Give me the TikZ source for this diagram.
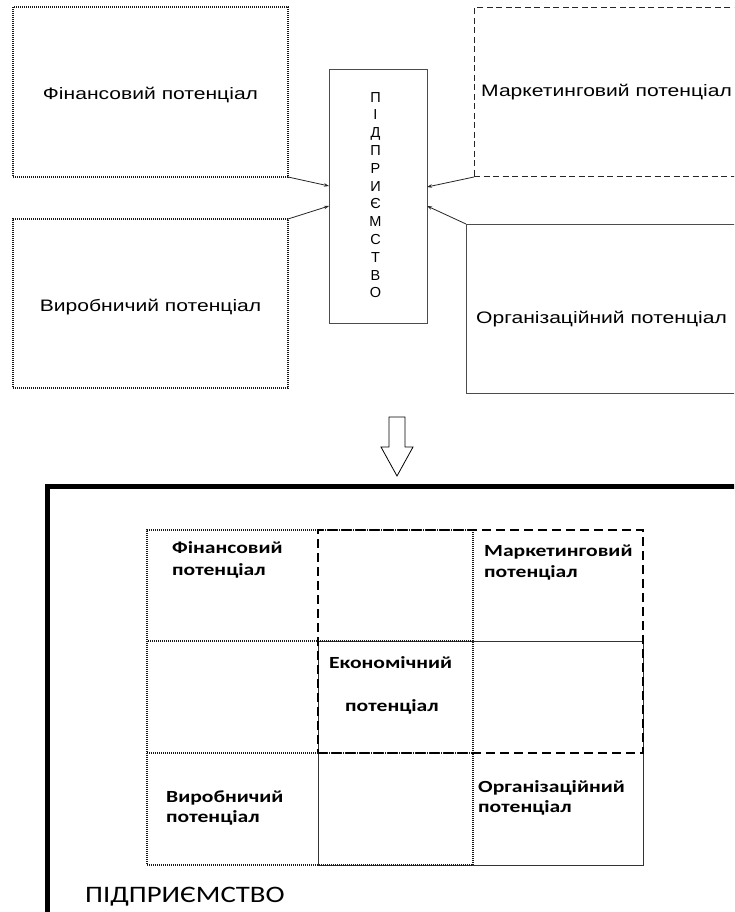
\documentclass[tikz,border=0pt]{standalone}
\usepackage{fontspec}
\setmainfont{Liberation Sans}
\newfontfamily\arialw[FakeStretch=1.27]{Liberation Sans}
\newfontfamily\calw[FakeStretch=1.27]{Carlito}
\newfontfamily\calv[FakeStretch=1.22]{Carlito}
\usetikzlibrary{arrows.meta}
\tikzset{
  box/.style={draw, rectangle, anchor=north west, inner sep=0pt, outer sep=0pt},
  dotbox/.style={box, draw=black!90, line width=1.2pt, dash pattern=on 1pt off 1pt},
  dashbox/.style={box, draw=black!85, line width=1pt, dash pattern=on 6pt off 3.5pt},
  gdashbox/.style={box, draw=black, line width=1.6pt, dash pattern=on 9pt off 5pt},
  solidbox/.style={box, draw=black!70, line width=0.8pt},
  conn/.style={draw=black!85, line width=0.8pt, -{Stealth[length=5pt,width=3.5pt]}},
  toptext/.style={font=\arialw\fontsize{16.6}{19}\selectfont, inner sep=0pt},
  gridtext/.style={font=\calw\bfseries\fontsize{17}{21}\selectfont, inner sep=0pt, anchor=base west},
}
\begin{document}
\begin{tikzpicture}[x=1pt, y=-1pt]
\useasboundingbox (0,0) rectangle (734,912);
\clip (0,0) rectangle (734,912);
\fill[white] (0,0) rectangle (734,912);

% top part
\node[dotbox, minimum width=275pt, minimum height=170pt] (fin) at (13,7) {};
\node[dotbox, minimum width=275pt, minimum height=169pt] (prod) at (13,219) {};
\node[solidbox, minimum width=98pt, minimum height=254pt] (ctr) at (329,69) {};
\node[dashbox, minimum width=300pt, minimum height=169pt] (mkt) at (474,8) {};
\node[solidbox, minimum width=300pt, minimum height=169pt] (org) at (466,224) {};

\node[toptext, anchor=base] (tfin) at (150.5,100) {Фінансовий потенціал};
\node[toptext, anchor=base] (tprod) at (150.5,311) {Виробничий потенціал};
\node[toptext, anchor=base west] (tmkt) at (481,97) {Маркетинговий потенціал};
\node[toptext, anchor=base west] (torg) at (476,323) {Організаційний потенціал};
\node[font=\fontsize{14.5}{17.8}\selectfont, align=center, inner sep=0pt] (tctr) at (375.5,195)
  {П\\І\\Д\\П\\Р\\И\\Є\\М\\С\\Т\\В\\О};

\draw[conn] (fin.south east) -- ([yshift=10pt]ctr.west);
\draw[conn] (prod.north east) -- ([yshift=-10pt]ctr.west);
\draw[conn] (mkt.south west) -- ([yshift=9pt]ctr.east);
\draw[conn] (org.north west) -- ([yshift=-10pt]ctr.east);

% down arrow
\draw[line width=0.8pt, line join=miter] (389,417) -- (405,417) -- (405,447) -- (413,447)
  -- (397,476) -- (381,447) -- (389,447) -- cycle;

% frame
\node[draw, line width=4.5pt, rectangle, anchor=north west, inner sep=0pt, outer sep=0pt,
  minimum width=800pt, minimum height=600pt] (frame) at (47.5,486.5) {};

% grid
\node[solidbox, draw=black!80, minimum width=325pt, minimum height=224pt] (gorg) at (318,641) {};
\node[dotbox, minimum width=326pt, minimum height=224pt] (gprod) at (147,641) {};
\node[dotbox, minimum width=326pt, minimum height=223pt] (gfin) at (147,530) {};
\node[gdashbox, minimum width=325pt, minimum height=223pt] (gmkt) at (318,530) {};

\node[gridtext] (gf1) at (172,553) {Фінансовий};
\node[gridtext] (gf2) at (172,575) {потенціал};
\node[gridtext] (gm1) at (484,556) {Маркетинговий};
\node[gridtext] (gm2) at (484,577) {потенціал};
\node[gridtext] (ge1) at (329,668) {Економічний};
\node[gridtext] (ge2) at (345,711) {потенціал};
\node[gridtext] (gp1) at (166,802) {Виробничий};
\node[gridtext] (gp2) at (166,822) {потенціал};
\node[gridtext] (go1) at (478,792) {Організаційний};
\node[gridtext] (go2) at (478,812) {потенціал};

\node[font=\calv\fontsize{23.6}{26}\selectfont, inner sep=0pt, anchor=base west] (tent) at (85,902) {ПІДПРИЄМСТВО};
\end{tikzpicture}
\end{document}
